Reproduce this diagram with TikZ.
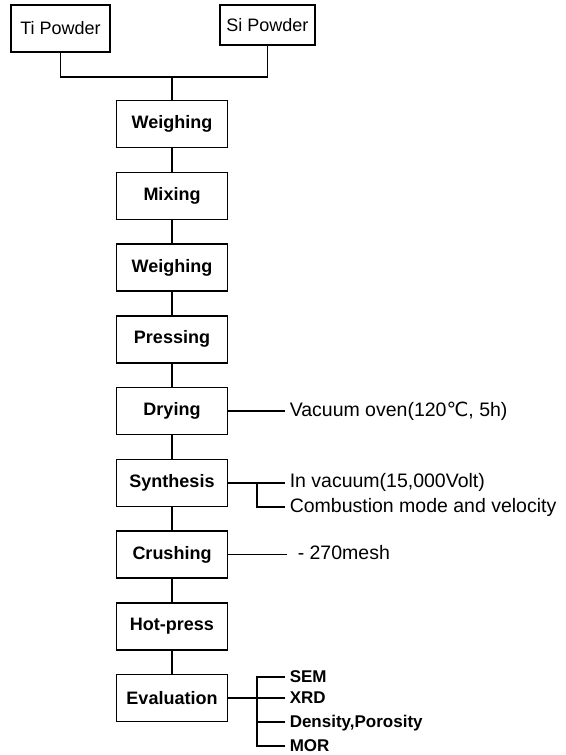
\documentclass[tikz,border=0pt]{standalone}
\usepackage{fontspec}
\setmainfont{Liberation Sans}
\newfontfamily\symfont{DejaVu Sans}
\usepackage{tikz}

\begin{document}
\begin{tikzpicture}[x=1pt,y=-1pt,line width=1.5pt,
  stepbox/.style={draw,minimum width=111pt,minimum height=47pt,inner sep=0pt,
    font=\bfseries\fontsize{18}{20}\selectfont},
  powderbox/.style={draw,minimum height=40pt,inner sep=5pt,
    font=\fontsize{18}{20}\selectfont},
  note/.style={anchor=west,inner sep=4pt,text height=14pt,text depth=4pt,
    font=\fontsize{19.5}{22}\selectfont},
  evalnote/.style={note,font=\bfseries\fontsize{17}{20}\selectfont}]
  \useasboundingbox (0,0) rectangle (565,755);
  % the two powders
  \node[powderbox,minimum width=99pt,minimum height=47pt] (ti) at (60.5,28.5) {Ti Powder};
  \node[powderbox,minimum width=95pt] (si) at (267.5,25) {Si Powder};
  \coordinate (join) at (172,77);
  \draw (ti.south) |- (join) -| (si.south);
  % the main chain of steps
  \foreach \name/\txt [count=\i] in {w1/Weighing,mix/Mixing,w2/Weighing,press/Pressing,
      dry/Drying,syn/Synthesis,crush/Crushing,hot/Hot-press,eval/Evaluation}
    \node[stepbox] (\name) at (172,{124+71.75*(\i-1)}) {\txt};
  \draw (join) -- (w1.north);
  \foreach \a/\b in {w1/mix,mix/w2,w2/press,press/dry,dry/syn,syn/crush,crush/hot,hot/eval}
    \draw (\a.south) -- (\b.north);
  % conditions on the right
  \node[note] (oven) at (285,411) {Vacuum oven(120{\symfont ℃}, 5h)};
  \draw (dry.east) -- (oven.west);
  \node[note] (volt) at (285,482.75) {In vacuum(15,000Volt)};
  \node[note] (comb) at (285,507) {Combustion mode and velocity};
  \coordinate (synfork) at (257,482.75);
  \draw (syn.east) -- (volt.west);
  \draw (synfork) |- (comb.west);
  \node[note,inner xsep=12pt] (mesh) at (285,554.5) {- 270mesh};
  \draw (crush.east) -- ([xshift=2pt]mesh.west);
  % evaluation items
  \node[evalnote] (sem) at (285,677) {SEM};
  \node[evalnote] (xrd) at (285,698) {XRD};
  \node[evalnote] (dens) at (285,722) {Density,Porosity};
  \node[evalnote] (mor) at (285,746) {MOR};
  \coordinate (evfork) at (257,698);
  \draw (eval.east) -- (xrd.west);
  \draw (sem.west) -| (evfork) |- (mor.west);
  \draw (evfork |- dens.west) -- (dens.west);
\end{tikzpicture}
\end{document}
